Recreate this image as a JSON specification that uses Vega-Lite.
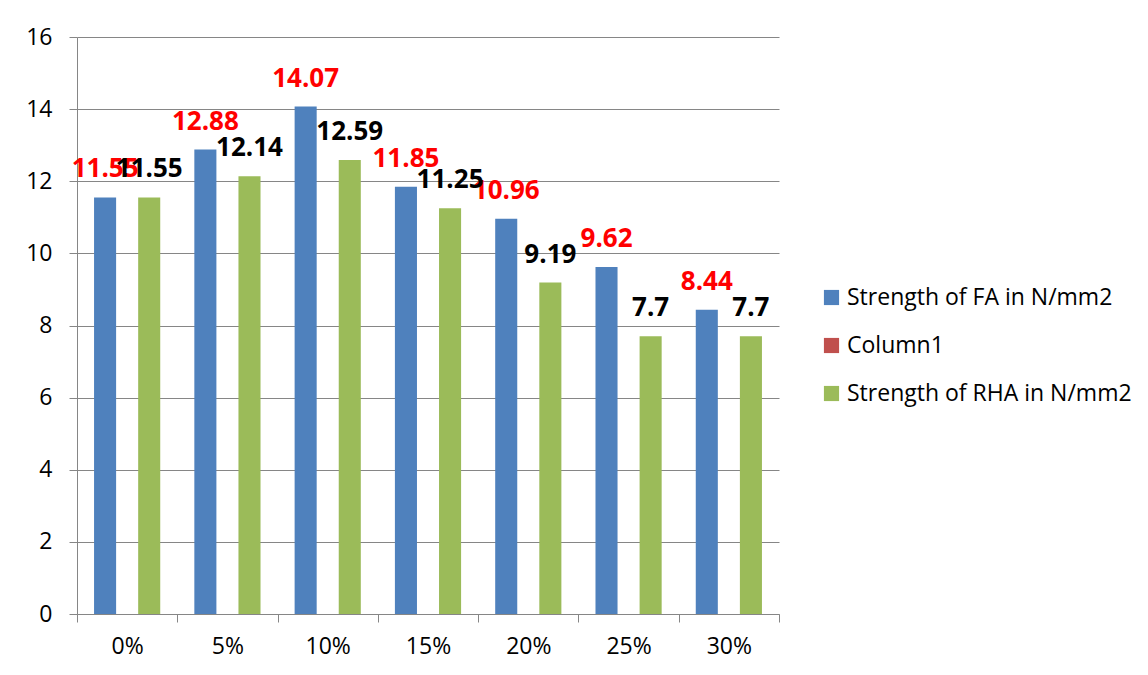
{
  "$schema": "https://vega.github.io/schema/vega-lite/v6.json",
  "width": 702,
  "height": 577,
  "autosize": {"type": "none"},
  "padding": {"left": 77, "top": 37, "right": 369, "bottom": 61},
  "background": "white",
  "config": {"view": {"stroke": null}, "font": "Open Sans"},
  "data": {
    "values": [
      {"cat": "0%", "series": "Strength of FA in N/mm2", "value": 11.55},
      {"cat": "5%", "series": "Strength of FA in N/mm2", "value": 12.88},
      {"cat": "10%", "series": "Strength of FA in N/mm2", "value": 14.07},
      {"cat": "15%", "series": "Strength of FA in N/mm2", "value": 11.85},
      {"cat": "20%", "series": "Strength of FA in N/mm2", "value": 10.96},
      {"cat": "25%", "series": "Strength of FA in N/mm2", "value": 9.62},
      {"cat": "30%", "series": "Strength of FA in N/mm2", "value": 8.44},
      {"cat": "0%", "series": "Strength of RHA in N/mm2", "value": 11.55},
      {"cat": "5%", "series": "Strength of RHA in N/mm2", "value": 12.14},
      {"cat": "10%", "series": "Strength of RHA in N/mm2", "value": 12.59},
      {"cat": "15%", "series": "Strength of RHA in N/mm2", "value": 11.25},
      {"cat": "20%", "series": "Strength of RHA in N/mm2", "value": 9.19},
      {"cat": "25%", "series": "Strength of RHA in N/mm2", "value": 7.7},
      {"cat": "30%", "series": "Strength of RHA in N/mm2", "value": 7.7}
    ]
  },
  "encoding": {
    "x": {
      "field": "cat", "type": "nominal",
      "sort": ["0%", "5%", "10%", "15%", "20%", "25%", "30%"],
      "scale": {"paddingInner": 0, "paddingOuter": 0},
      "axis": {
        "title": null, "labelAngle": 0, "tickBand": "extent", "tickSize": 8,
        "labelPadding": 13, "labelFontSize": 23, "labelColor": "#000000",
        "domainColor": "#868686", "tickColor": "#868686", "grid": false
      }
    },
    "xOffset": {
      "field": "series", "type": "nominal",
      "scale": {"domain": ["Strength of FA in N/mm2", "Column1", "Strength of RHA in N/mm2"], "paddingInner": 0, "paddingOuter": 0.773}
    },
    "y": {
      "field": "value", "type": "quantitative",
      "scale": {"domain": [0, 16], "nice": false},
      "axis": {
        "title": null, "values": [0, 2, 4, 6, 8, 10, 12, 14, 16], "grid": true,
        "gridColor": "#868686", "domainColor": "#868686", "tickColor": "#868686",
        "tickSize": 8, "labelPadding": 17, "labelFontSize": 23, "labelColor": "#000000"
      }
    }
  },
  "layer": [
    {
      "mark": {"type": "bar"},
      "encoding": {
        "color": {
          "field": "series", "type": "nominal",
          "scale": {"domain": ["Strength of FA in N/mm2", "Column1", "Strength of RHA in N/mm2"], "range": ["#4F81BD", "#C0504D", "#9BBB59"]},
          "legend": {
            "title": null, "orient": "none", "legendX": 743, "legendY": 249,
            "labelFontSize": 23, "labelColor": "#000000", "labelLimit": 400, "symbolType": "square",
            "symbolSize": 230, "symbolStrokeWidth": 0, "rowPadding": 24, "labelOffset": 4
          }
        }
      }
    },
    {
      "transform": [{"filter": "datum.series === 'Strength of FA in N/mm2'"}],
      "mark": {"type": "text", "color": "#FF0000", "fontWeight": "bold", "fontSize": 26, "baseline": "alphabetic", "dy": -20},
      "encoding": {"text": {"field": "value", "type": "quantitative"}}
    },
    {
      "transform": [{"filter": "datum.series === 'Strength of RHA in N/mm2'"}],
      "mark": {"type": "text", "color": "#000000", "fontWeight": "bold", "fontSize": 26, "baseline": "alphabetic", "dy": -20},
      "encoding": {"text": {"field": "value", "type": "quantitative"}}
    }
  ]
}
